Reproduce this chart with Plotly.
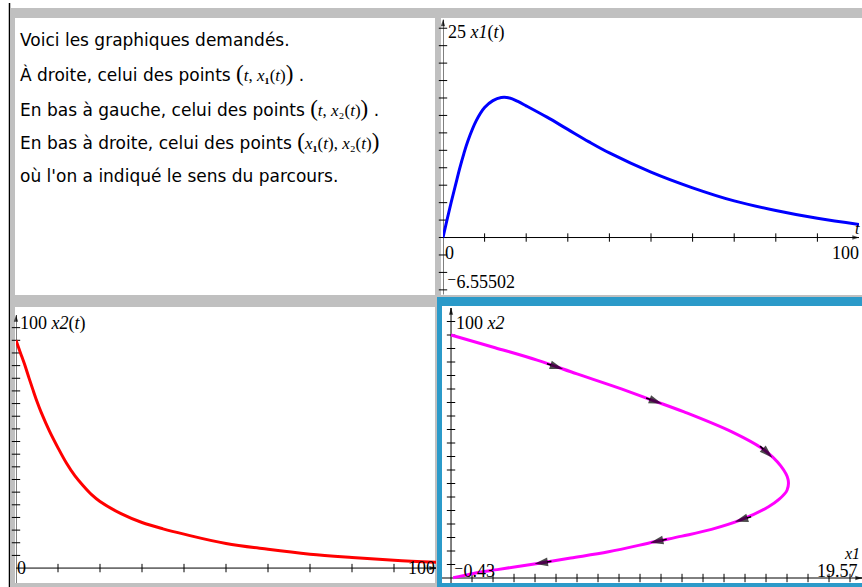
import numpy as np
import plotly.graph_objects as go

# Solution samples: time t and the two state variables x1(t), x2(t)
t_vals = [0, 1, 2, 3, 4, 5, 6, 8, 10, 12, 14, 16, 18, 20, 25, 30, 35, 40,
          50, 60, 70, 80, 90, 100, 120, 150, 200]
x1_vals = [0, 2.1, 4.1, 6.0, 7.9, 9.6, 11.1, 13.4, 14.9, 15.7, 16.05, 16.0,
           15.6, 15.1, 13.8, 12.4, 11.0, 9.7, 7.5, 5.7, 4.2, 3.1, 2.2, 1.5,
           0.8, 0.35, 0.1]
x2_vals = [90, 85.3, 80.7, 75.6, 70.6, 65.8, 61.5, 54, 47.5, 41.5, 36.5, 32.5,
           29, 26.3, 21.5, 18, 15.5, 13.4, 9.7, 7.4, 5.5, 4.2, 3.1, 2.3, 1.2,
           0.5, 0.1]

# Times at which the direction of travel is marked on the phase curve
arrow_t = [2.65, 5.3, 11, 26, 41, 72]

# Window settings of the three graphs
win_x1 = dict(x=[0, 100], y=[-6.55502, 25], xticks=list(range(10, 100, 10)),
              yticks=list(range(-6, 25, 2)))
win_x2 = dict(x=[0, 100], y=[-5.9, 100], xticks=list(range(10, 100, 10)),
              yticks=list(range(5, 100, 5)))
win_ph = dict(x=[-0.43, 19.57], y=[-1.85, 100], xticks=list(range(1, 20)),
              yticks=list(range(5, 100, 5)))

W, H = 862, 587
GRAY = "#c0c0c0"
BLUE = "#2b9ac9"
SERIF = "Liberation Serif, DejaVu Serif, serif"
SANS = "DejaVu Sans, Verdana, sans-serif"


def px(x):
    return x / W


def py(y):
    return 1 - y / H


t = np.array(t_vals, dtype=float)
x1 = np.array(x1_vals, dtype=float)
x2 = np.array(x2_vals, dtype=float)
upto100 = t <= 100

fig = go.Figure()

# Graph areas in pixels (left, right, top, bottom)
areas = {
    "": (443, 859, 19.5, 294.7),
    "2": (16, 436, 315, 583),
    "3": (442, 862, 308, 583),
}
wins = {"": win_x1, "2": win_x2, "3": win_ph}


def scales(k):
    l, r, tp, b = areas[k]
    w = wins[k]
    return ((r - l) / (w["x"][1] - w["x"][0]),
            (b - tp) / (w["y"][1] - w["y"][0]))


def arrow(k, hx, hy, ux, uy, length, size, color, width, symbol="arrow"):
    """Short segment ending in an arrowhead at (hx, hy); (ux, uy) is the
    screen direction of travel."""
    sx, sy = scales(k)
    tx = hx - length * ux / sx
    ty = hy + length * uy / sy
    fig.add_trace(go.Scatter(
        x=[tx, hx], y=[ty, hy], mode="lines+markers",
        line=dict(color=color, width=width),
        marker=dict(symbol=symbol, size=[0, size], angleref="previous",
                    color=color, line=dict(width=0)),
        xaxis="x" + k, yaxis="y" + k, hoverinfo="skip", cliponaxis=False))


for k, (l, r, tp, b) in areas.items():
    w = wins[k]
    common = dict(showgrid=False, zeroline=False, showline=False,
                  showticklabels=False, ticks="", fixedrange=True)
    fig.layout["xaxis" + k] = dict(domain=[px(l), px(r)], range=w["x"],
                                   anchor="y" + k, **common)
    fig.layout["yaxis" + k] = dict(domain=[py(b), py(tp)], range=w["y"],
                                   anchor="x" + k, **common)

# Axes with tick marks, drawn through the origin
for k, w in wins.items():
    xa, ya = "x" + k, "y" + k
    x0 = max(w["x"][0], 0)
    fig.add_trace(go.Scatter(x=[w["x"][0], w["x"][1]], y=[0, 0], mode="lines",
                             line=dict(color="black", width=1), xaxis=xa,
                             yaxis=ya, hoverinfo="skip", cliponaxis=False))
    fig.add_trace(go.Scatter(x=[x0, x0], y=[w["y"][0], w["y"][1]], mode="lines",
                             line=dict(color="black", width=1), xaxis=xa,
                             yaxis=ya, hoverinfo="skip", cliponaxis=False))
    fig.add_trace(go.Scatter(x=w["xticks"], y=[0] * len(w["xticks"]),
                             mode="markers",
                             marker=dict(symbol="line-ns", size=6,
                                         line=dict(color="black", width=1)),
                             xaxis=xa, yaxis=ya, hoverinfo="skip",
                             cliponaxis=False))
    fig.add_trace(go.Scatter(x=[x0] * len(w["yticks"]), y=w["yticks"],
                             mode="markers",
                             marker=dict(symbol="line-ew", size=6,
                                         line=dict(color="black", width=1)),
                             xaxis=xa, yaxis=ya, hoverinfo="skip",
                             cliponaxis=False))
    # arrow tips at the ends of both axes
    arrow(k, w["x"][1], 0, 1, 0, 6, 7, "black", 1)
    arrow(k, x0, w["y"][1], 0, -1, 6, 7, "black", 1)

# Curves
fig.add_trace(go.Scatter(x=t[upto100], y=x1[upto100], mode="lines",
                         line=dict(color="#0000ff", width=3, shape="spline"),
                         xaxis="x", yaxis="y"))
fig.add_trace(go.Scatter(x=t[upto100], y=x2[upto100], mode="lines",
                         line=dict(color="#ff0000", width=3, shape="spline"),
                         xaxis="x2", yaxis="y2"))
fig.add_trace(go.Scatter(x=x1, y=x2, mode="lines",
                         line=dict(color="#ff00ff", width=3, shape="spline"),
                         xaxis="x3", yaxis="y3", cliponaxis=False))

# Direction arrows along the phase curve
sx3, sy3 = scales("3")
for ta in arrow_t:
    hx, hy = np.interp(ta, t, x1), np.interp(ta, t, x2)
    dx = (np.interp(ta + 1, t, x1) - np.interp(ta - 1, t, x1)) * sx3
    dy = -(np.interp(ta + 1, t, x2) - np.interp(ta - 1, t, x2)) * sy3
    n = np.hypot(dx, dy)
    arrow("3", hx, hy, dx / n, dy / n, 17, 14, "black", 1.6)

# Frame of the four panels
shapes = [
    dict(type="rect", x0=px(11), x1=1, y0=0, y1=py(8), fillcolor=GRAY,
         line_width=0, layer="below"),
    dict(type="rect", x0=px(15), x1=px(435), y0=py(295), y1=py(18),
         fillcolor="white", line_width=0, layer="below"),
    dict(type="rect", x0=px(441), x1=1, y0=py(295), y1=py(18),
         fillcolor="white", line_width=0, layer="below"),
    dict(type="rect", x0=px(15), x1=px(435), y0=py(583), y1=py(307),
         fillcolor="white", line_width=0, layer="below"),
    dict(type="rect", x0=px(437), x1=1, y0=0, y1=py(297), fillcolor=BLUE,
         line_width=0, layer="below"),
    dict(type="rect", x0=px(442), x1=1, y0=py(583), y1=py(306),
         fillcolor="white", line_width=0, layer="below"),
    dict(type="line", x0=px(9.5), x1=px(9.5), y0=0, y1=py(3),
         line=dict(color="black", width=1.5), layer="above"),
]
for s in shapes:
    s.update(xref="paper", yref="paper")
    fig.add_shape(**s)


def label(x, y, text, size=18, family=SERIF, xanchor="left",
          yanchor="middle"):
    fig.add_annotation(x=px(x), y=py(y), xref="paper", yref="paper",
                       text=text, showarrow=False, xanchor=xanchor,
                       yanchor=yanchor, font=dict(family=family, size=size,
                                                  color="black"))


# Window labels of the graphs
label(446, 32, "25 <i>x1</i>(<i>t</i>)")
label(443, 253, "0")
label(861, 253, "100", xanchor="right")
label(445, 282, "⁻6.55502")
label(862, 228, "<i>t</i>", size=16, xanchor="right")
label(18, 323, "100 <i>x2</i>(<i>t</i>)")
label(15, 568, "0")
label(437, 568, "100", xanchor="right")
label(454, 323, "100 <i>x2</i>")
label(452, 571, "⁻0.43")
label(860, 571, "19.57", xanchor="right")
label(862, 553, "<i>x1</i>", size=16, xanchor="right")

# Explanatory text
PO = "<span style='font-family:Liberation Serif;font-size:23px'>(</span>"
PC = "<span style='font-family:Liberation Serif;font-size:23px'>)</span>"
M = "<span style='font-family:Liberation Serif;font-size:17px'>"


def pair(a, b):
    return PO + M + a + ", " + b + "</span>" + PC


X1 = "<i>x</i><b>₁</b>(<i>t</i>)"
X2 = "<i>x</i>₂(<i>t</i>)"
lines = [
    "Voici les graphiques demandés.",
    "À droite, celui des points " + pair("<i>t</i>", X1) + " .",
    "En bas à gauche, celui des points " + pair("<i>t</i>", X2) + " .",
    "En bas à droite, celui des points " + pair(X1, X2),
    "où l'on a indiqué le sens du parcours.",
]
for i, s in enumerate(lines):
    label(18, 40 + 34 * i, s, size=17, family=SANS)

fig.update_layout(width=W, height=H, margin=dict(l=0, r=0, t=0, b=0),
                  paper_bgcolor="white", plot_bgcolor="rgba(0,0,0,0)",
                  showlegend=False)

fig.write_html("out.html")
